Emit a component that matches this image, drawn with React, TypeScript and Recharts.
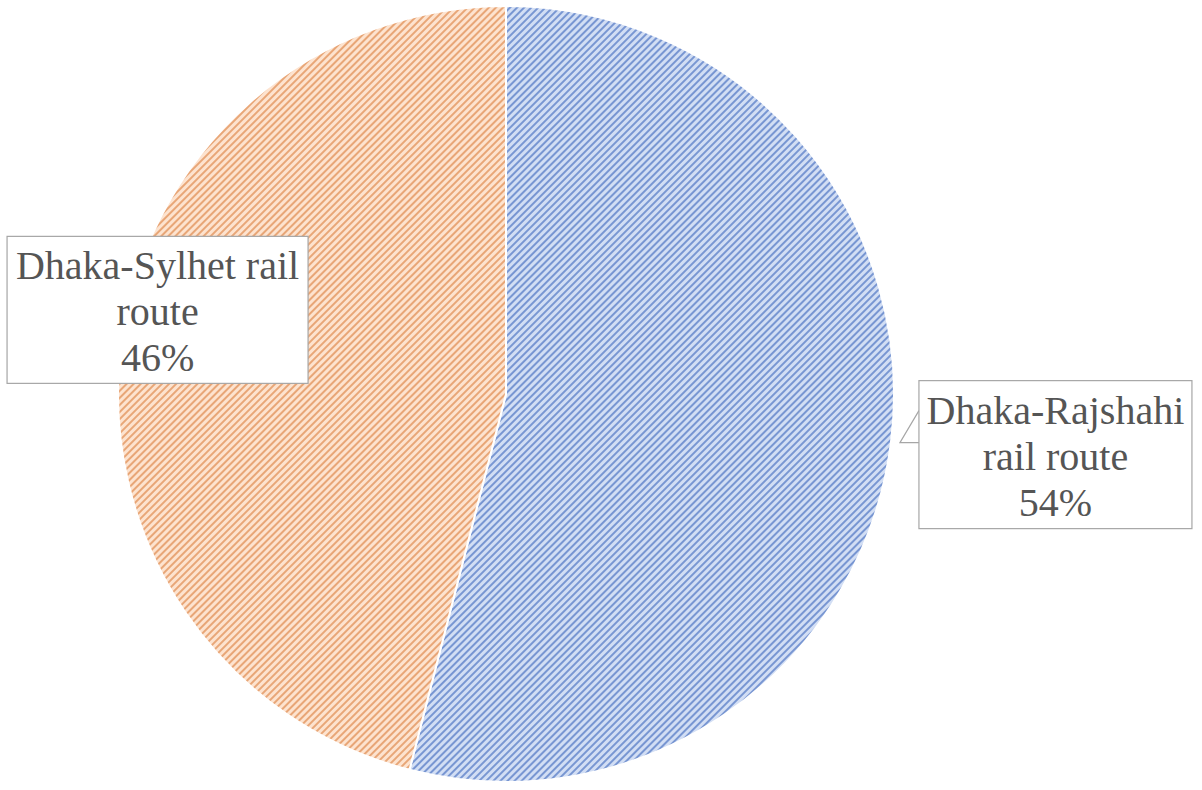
import { PieChart, Pie, Cell } from "recharts";

const routes = ["Dhaka-Rajshahi rail route", "Dhaka-Sylhet rail route"];
const shares = [54, 46];
const labelLines = [
  ["Dhaka-Rajshahi", "rail route"],
  ["Dhaka-Sylhet rail", "route"],
];
const patternIds = ["hatchBlue", "hatchOrange"];

const data = routes.map((name, i) => ({ name, value: shares[i] }));

const RADIAN = Math.PI / 180;
const SERIF = "Liberation Serif, Times New Roman, Tinos, DejaVu Serif, serif";

// box placement relative to the slice's edge point at midAngle
const boxLayout = [
  { dx: 28, dy: -62, w: 273, h: 148, leader: true },
  { dx: -114, dy: -109, w: 301, h: 147, leader: false },
];

function renderLabel(props: any) {
  const { cx, cy, midAngle, outerRadius, index } = props;
  const px = cx + outerRadius * Math.cos(-midAngle * RADIAN);
  const py = cy + outerRadius * Math.sin(-midAngle * RADIAN);
  const lay = boxLayout[index];
  const left = px + lay.dx;
  const top = py + lay.dy;
  const lines = [...labelLines[index], `${shares[index]}%`];
  return (
    <g fontFamily={SERIF}>
      {lay.leader && (
        <path
          d={`M${left},${top + 30} L${px + 9},${py} L${left},${py}`}
          fill="none"
          stroke="#a6a6a6"
          strokeWidth={1.2}
        />
      )}
      <rect x={left} y={top} width={lay.w} height={lay.h} fill="#fff" stroke="#a6a6a6" strokeWidth={1.2} />
      {lines.map((t, i) => (
        <text
          key={i}
          x={left + lay.w / 2}
          y={top + 43 + i * 46}
          textAnchor="middle"
          fill="#555"
          fontFamily={SERIF}
          fontSize={40}
        >
          {t}
        </text>
      ))}
    </g>
  );
}

export default function App() {
  return (
    <div style={{ width: 1202, height: 790, background: "#fff", fontFamily: SERIF }}>
      <style>{`body{margin:0}`}</style>
      <PieChart width={1202} height={790} margin={{ top: 0, right: 0, bottom: 0, left: 0 }}>
        <defs>
          <pattern id="hatchBlue" patternUnits="userSpaceOnUse" width={5} height={5} patternTransform="rotate(45)">
            <rect width={5} height={5} fill="#d2def4" />
            <rect width={2} height={5} fill="#7896d2" />
          </pattern>
          <pattern id="hatchOrange" patternUnits="userSpaceOnUse" width={5} height={5} patternTransform="rotate(45)">
            <rect width={5} height={5} fill="#fde3cf" />
            <rect width={2} height={5} fill="#e8a677" />
          </pattern>
        </defs>
        <Pie
          data={data}
          dataKey="value"
          nameKey="name"
          cx={506}
          cy={394}
          outerRadius={388}
          startAngle={90}
          endAngle={-270}
          stroke="#fff"
          strokeWidth={2}
          label={renderLabel}
          labelLine={false}
          isAnimationActive={false}
        >
          {data.map((d, i) => (
            <Cell key={d.name} fill={`url(#${patternIds[i]})`} />
          ))}
        </Pie>
      </PieChart>
    </div>
  );
}
